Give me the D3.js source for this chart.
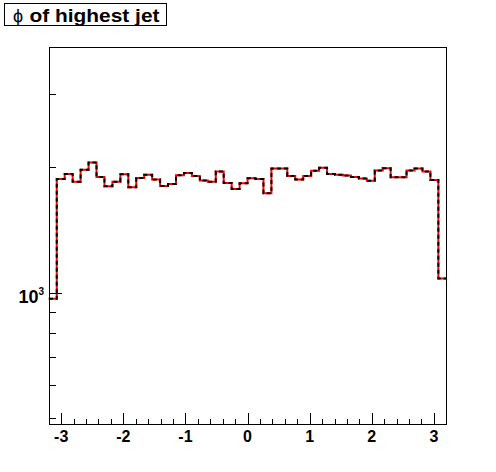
<!DOCTYPE html>
<html>
<head>
<meta charset="utf-8">
<script src="https://cdn.jsdelivr.net/npm/d3@7"></script>
<style>
  html, body { margin: 0; padding: 0; background: #fff; }
  svg { display: block; }
  text { font-family: "Liberation Sans", Arial, sans-serif; }
</style>
</head>
<body>
<script>
// ---- data ----
const title = "of highest jet";
const xRange = [-3.2, 3.2];
const nBins = 50;
const counts = [
  966, 1877, 1930, 1847, 1974, 2057, 1898, 1803, 1847, 1927,
  1793, 1888, 1920, 1871, 1806, 1826, 1916, 1941, 1909, 1861,
  1847, 1956, 1836, 1776, 1833, 1885, 1877, 1734, 1989, 1989,
  1909, 1871, 1909, 1963, 1996, 1930, 1922, 1913, 1898, 1882,
  1857, 1967, 1992, 1895, 1895, 1967, 1989, 1956, 1867, 1081
];
const yRange = [483, 3898];
const xMajorTicks = [-3, -2, -1, 0, 1, 2, 3];
const xTickLabels = ["-3", "-2", "-1", "0", "1", "2", "3"];
const yMajorTicks = [1000];
const yMinorTicks = [500, 600, 700, 800, 900, 2000, 3000];

// ---- layout ----
const W = 496, H = 472;
const L = 49, R = 446, T = 47, B = 424;

const svg = d3.select("body").append("svg")
  .attr("width", W).attr("height", H);
svg.append("rect").attr("width", W).attr("height", H).attr("fill", "#fff");

const x = d3.scaleLinear().domain(xRange).range([L - 0.2, R + 0.3]);
const y = d3.scaleLog().domain(yRange).range([B, T]);

// frame
svg.append("rect")
  .attr("x", L + 0.5).attr("y", T + 0.5)
  .attr("width", R - L).attr("height", B - T)
  .attr("fill", "none").attr("stroke", "#000").attr("stroke-width", 1);

// histogram step points
const bw = (xRange[1] - xRange[0]) / nBins;
const pts = [];
counts.forEach((c, i) => {
  const x0 = xRange[0] + i * bw, x1 = x0 + bw;
  pts.push([x0, c]); pts.push([x1, c]);
});
const line = d3.line().x(d => x(d[0])).y(d => y(d[1]));

svg.append("path").attr("d", line(pts))
  .attr("fill", "none").attr("stroke", "#ff0000").attr("stroke-width", 2);
svg.append("path").attr("d", line(pts))
  .attr("fill", "none").attr("stroke", "#000").attr("stroke-width", 2)
  .attr("stroke-dasharray", "4,3");

// x ticks
const xMinor = d3.range(-16, 17).map(k => k * 0.2);
svg.append("g").selectAll("line").data(xMinor).join("line")
  .attr("x1", d => Math.round(x(d)) + 0.5).attr("x2", d => Math.round(x(d)) + 0.5)
  .attr("y1", B).attr("y2", B - 5)
  .attr("stroke", "#000").attr("stroke-width", 1);
svg.append("g").selectAll("line").data(xMajorTicks).join("line")
  .attr("x1", d => Math.round(x(d)) + 0.5).attr("x2", d => Math.round(x(d)) + 0.5)
  .attr("y1", B).attr("y2", B - 11)
  .attr("stroke", "#000").attr("stroke-width", 1);
svg.append("g").selectAll("text").data(xMajorTicks).join("text")
  .attr("x", d => x(d)).attr("y", 442)
  .attr("text-anchor", "middle")
  .attr("font-size", 16).attr("font-weight", "bold")
  .text((d, i) => xTickLabels[i]);

// y ticks
svg.append("g").selectAll("line").data(yMinorTicks).join("line")
  .attr("x1", L).attr("x2", L + 7)
  .attr("y1", d => Math.round(y(d)) + 0.5).attr("y2", d => Math.round(y(d)) + 0.5)
  .attr("stroke", "#000").attr("stroke-width", 1);
svg.append("g").selectAll("line").data(yMajorTicks).join("line")
  .attr("x1", L).attr("x2", L + 13)
  .attr("y1", d => Math.round(y(d)) + 0.5).attr("y2", d => Math.round(y(d)) + 0.5)
  .attr("stroke", "#000").attr("stroke-width", 1);
const yl = svg.append("g").selectAll("g").data(yMajorTicks).join("g");
yl.append("text")
  .attr("x", 38.5).attr("y", d => y(d) + 10)
  .attr("text-anchor", "end")
  .attr("font-size", 18).attr("font-weight", "bold")
  .text("10");
yl.append("text")
  .attr("x", 38.5).attr("y", d => y(d) + 2)
  .attr("text-anchor", "start")
  .attr("font-size", 10).attr("font-weight", "bold")
  .text(d => String(Math.round(Math.log10(d))));

// title box
svg.append("rect")
  .attr("x", 4.5).attr("y", 3.5).attr("width", 162).attr("height", 22)
  .attr("fill", "#fff").attr("stroke", "#000").attr("stroke-width", 1);
svg.append("text")
  .attr("x", 13).attr("y", 21.5)
  .attr("font-family", "DejaVu Sans")
  .attr("font-size", 18)
  .text("\u03D5");
svg.append("text")
  .attr("x", 29.5).attr("y", 21.7)
  .attr("font-size", 19).attr("font-weight", "bold")
  .attr("textLength", 130).attr("lengthAdjust", "spacingAndGlyphs")
  .text(title);
</script>
</body>
</html>
